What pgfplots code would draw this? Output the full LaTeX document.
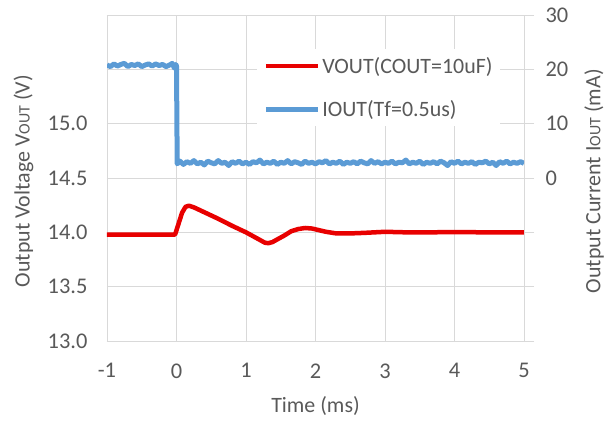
\documentclass[border=0pt]{standalone}
\usepackage{fontspec}
\setmainfont{Carlito}
\usepackage{pgfplots}
\pgfplotsset{compat=1.18}
\definecolor{vred}{RGB}{232,0,0}
\definecolor{iblue}{RGB}{91,155,213}
\definecolor{gridc}{RGB}{217,217,217}
\definecolor{txt}{RGB}{89,89,89}
\begin{document}
\begin{tikzpicture}
\pgfplotsset{
  common/.style={
    width=417bp, height=326bp, scale only axis,
    xmin=-1, xmax=5,
    /pgf/number format/assume math mode=true,
    tick label style={font=\fontsize{22.5}{22.5}\selectfont, text=txt},
    label style={font=\fontsize{22}{22}\selectfont, text=txt},
  }
}
\useasboundingbox (-107bp,-80bp) rectangle (506bp,341bp);
\begin{axis}[common,
  at={(0,0)}, anchor=south west,
  ymin=13, ymax=16,
  ytick={13,13.5,14,14.5,15,15.5,16},
  yticklabels={13.0,13.5,14.0,14.5,15.0,,},
  xtick={-1,0,1,2,3,4,5},
  xticklabels={-1,0,1,2,3,4,5},
  xticklabel style={yshift=-19bp},
  yticklabel style={xshift=-16bp},
  grid=major, grid style={gridc, line width=0.8pt},
  axis line style={gridc, line width=0.8pt},
  major tick length=0pt,
  xlabel={Time (ms)},
  xlabel style={at={(axis description cs:0.5,-0.2)}, anchor=center},
  ylabel={Output Voltage V{\fontsize{16}{16}\selectfont OUT} (V)},
  ylabel style={at={(axis description cs:-0.2,0.49)}, anchor=center},
]
\addplot[vred, line width=4.5bp, line join=round] coordinates {
(-1,13.98) (-0.02,13.98) (0.03,14.08) (0.08,14.18) (0.13,14.235) (0.18,14.245) (0.25,14.23)
(0.4,14.185) (0.6,14.125) (0.8,14.06) (1.0,14.0) (1.1,13.965) (1.2,13.93)
(1.27,13.905) (1.32,13.9) (1.38,13.91) (1.45,13.935) (1.55,13.97) (1.65,14.01)
(1.75,14.03) (1.85,14.04) (1.95,14.035) (2.05,14.02) (2.15,14.005) (2.3,13.99)
(2.5,13.99) (2.7,13.995) (3.0,14.005) (3.3,14.0) (3.6,14.0) (4.0,14.002) (4.5,14.0) (5,14.0)
};
\end{axis}
\begin{axis}[common,
  at={(0,0)}, anchor=south west,
  ymin=-30, ymax=30,
  axis x line=none,
  axis y line*=right,
  ytick={-30,-20,-10,0,10,20,30},
  yticklabels={,,,0,10,20,30},
  tick align=outside,
  major tick length=10bp,
  tick style={gridc, line width=0.8pt},
  axis line style={gridc, line width=0.8pt},
  yticklabel style={xshift=8bp},
  ylabel={Output Current I{\fontsize{16}{16}\selectfont OUT} (mA)},
  ylabel style={at={(axis description cs:1.168,0.49)}, anchor=center, rotate=0},
  legend style={at={(axis description cs:0.36,0.895)}, anchor=north west,
    draw=none, fill=white, font=\fontsize{22}{22}\selectfont, text=txt,
    row sep=22bp, inner xsep=6bp, inner ysep=6bp},
  legend cell align=left,
  legend image code/.code={\draw[#1] (0bp,0bp) -- (52bp,0bp);},
]
\addlegendimage{vred, line width=4.5bp}
\addlegendentry{VOUT(COUT=10uF)}
\addplot[iblue, line width=5bp, line join=round] coordinates {
(-1,20.8) (-0.95,20.5) (-0.9,21.0) (-0.85,20.6) (-0.8,20.9) (-0.75,21.1) (-0.7,20.5)
(-0.65,20.9) (-0.6,20.7) (-0.55,21.0) (-0.5,20.5) (-0.45,20.8) (-0.4,21.0) (-0.35,20.6)
(-0.3,21.0) (-0.25,20.7) (-0.2,20.9) (-0.15,20.5) (-0.1,20.8) (-0.06,21.1) (-0.03,20.2)
(-0.01,20.9) (0.0,20.6) (0.01,2.6)
(0.05,3.1) (0.1,2.5) (0.15,3.0) (0.2,2.7) (0.25,3.2) (0.3,2.6) (0.35,2.9) (0.4,2.4)
(0.45,3.1) (0.5,2.8) (0.55,2.6) (0.6,3.2) (0.65,2.7) (0.7,2.9) (0.75,2.3) (0.8,3.0)
(0.85,2.7) (0.9,3.1) (0.95,2.6) (1.0,2.9) (1.05,2.5) (1.1,3.0) (1.15,2.8) (1.2,3.3)
(1.25,2.6) (1.3,2.9) (1.35,2.7) (1.4,3.1) (1.45,2.5) (1.5,2.9) (1.55,2.7) (1.6,3.2)
(1.65,2.6) (1.7,3.0) (1.75,2.8) (1.8,2.5) (1.85,3.1) (1.9,2.7) (1.95,2.9) (2.0,2.6)
(2.05,3.0) (2.1,2.8) (2.15,3.2) (2.2,2.6) (2.25,2.9) (2.3,2.7) (2.35,3.1) (2.4,2.5)
(2.45,2.9) (2.5,2.7) (2.55,3.0) (2.6,2.6) (2.65,3.1) (2.7,2.8) (2.75,2.6) (2.8,3.2)
(2.85,2.7) (2.9,3.0) (2.95,2.6) (3.0,2.9) (3.05,2.7) (3.1,3.1) (3.15,2.6) (3.2,2.9)
(3.25,2.8) (3.3,3.3) (3.35,2.6) (3.4,2.9) (3.45,2.7) (3.5,3.1) (3.55,2.5) (3.6,2.9)
(3.65,2.7) (3.7,3.0) (3.75,2.6) (3.8,3.1) (3.85,2.8) (3.9,2.3) (3.95,3.0) (4.0,2.7)
(4.05,3.1) (4.1,2.6) (4.15,2.9) (4.2,2.7) (4.25,3.0) (4.3,2.5) (4.35,2.9) (4.4,2.8)
(4.45,3.1) (4.5,2.6) (4.55,2.9) (4.6,2.3) (4.65,3.0) (4.7,2.7) (4.75,3.1) (4.8,2.6)
(4.85,2.9) (4.9,2.7) (4.95,3.0) (5.0,2.7)
};
\addlegendentry{IOUT(Tf=0.5us)}
\end{axis}
\end{tikzpicture}
\end{document}
